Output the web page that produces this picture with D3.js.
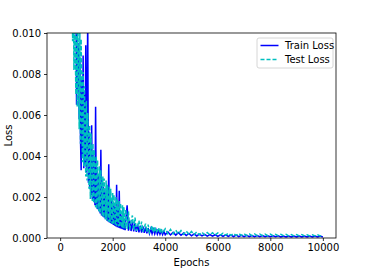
<!DOCTYPE html>
<html>
<head>
<meta charset="utf-8">
<script src="https://cdn.jsdelivr.net/npm/d3@7"></script>
<style>
  body { margin: 0; background: #fff; }
  svg { display: block; font-family: "DejaVu Sans", sans-serif; }
</style>
</head>
<body>
<div id="chart"></div>
<script>
// epochs: every 25 up to 2500, every 50 up to 4000, then every 100
const epochs = [
  400, 425, 450, 475, 500, 525, 550, 575, 600, 625,
  650, 675, 700, 725, 750, 775, 800, 825, 850, 875,
  900, 925, 950, 975, 1000, 1025, 1050, 1075, 1100, 1125,
  1150, 1175, 1200, 1225, 1250, 1275, 1300, 1325, 1350, 1375,
  1400, 1425, 1450, 1475, 1500, 1525, 1550, 1575, 1600, 1625,
  1650, 1675, 1700, 1725, 1750, 1775, 1800, 1825, 1850, 1875,
  1900, 1925, 1950, 1975, 2000, 2025, 2050, 2075, 2100, 2125,
  2150, 2175, 2200, 2225, 2250, 2275, 2300, 2325, 2350, 2375,
  2400, 2425, 2450, 2475, 2500,
  2550, 2600, 2650, 2700, 2750, 2800, 2850, 2900, 2950, 3000,
  3050, 3100, 3150, 3200, 3250, 3300, 3350, 3400, 3450, 3500,
  3550, 3600, 3650, 3700, 3750, 3800, 3850, 3900, 3950, 4000,
  4100, 4200, 4300, 4400, 4500, 4600, 4700, 4800, 4900, 5000,
  5100, 5200, 5300, 5400, 5500, 5600, 5700, 5800, 5900, 6000,
  6100, 6200, 6300, 6400, 6500, 6600, 6700, 6800, 6900, 7000,
  7100, 7200, 7300, 7400, 7500, 7600, 7700, 7800, 7900, 8000,
  8100, 8200, 8300, 8400, 8500, 8600, 8700, 8800, 8900, 9000,
  9100, 9200, 9300, 9400, 9500, 9600, 9700, 9800, 9900, 10000
]

const trainLoss = [
  0.021, 0.016, 0.019, 0.013, 0.016, 0.0115, 0.014, 0.0105, 0.0125, 0.0065,
  0.0102, 0.0072, 0.0095, 0.0058, 0.0088, 0.0048, 0.0033, 0.0078, 0.0040, 0.0089,
  0.0034, 0.0070, 0.0036, 0.0094, 0.0032, 0.0060, 0.0108, 0.0027, 0.0052, 0.0024,
  0.0048, 0.0021, 0.0055, 0.0019, 0.0042, 0.0018, 0.0038, 0.0016, 0.0064, 0.0015,
  0.0034, 0.0014, 0.0031, 0.0013, 0.0030, 0.0012, 0.0043, 0.0011, 0.0027, 0.00105,
  0.0025, 0.0010, 0.0024, 0.00092, 0.0022, 0.00086, 0.0021, 0.0008, 0.0036, 0.00076,
  0.0019, 0.00072, 0.0018, 0.00068, 0.0017, 0.00064, 0.0016, 0.0006, 0.0015, 0.00056,
  0.0026, 0.00053, 0.0014, 0.0005, 0.0023, 0.00048, 0.0012, 0.00045, 0.0011, 0.00043,
  0.001, 0.0004, 0.00095, 0.00038, 0.0009,
  0.0016, 0.00036, 0.00085, 0.00034, 0.0008, 0.00032, 0.00072, 0.0003, 0.00065, 0.00028,
  0.0006, 0.00026, 0.00056, 0.00025, 0.00052, 0.00023, 0.00048, 0.00022, 0.00045, 0.00021,
  0.00042, 0.0002, 0.0004, 0.00019, 0.00037, 0.00018, 0.00035, 0.00017, 0.00033, 0.00016,
  0.0003, 0.00015, 0.00028, 0.00014, 0.00026, 0.00013, 0.00024, 0.00012, 0.00022, 0.00011,
  0.0002, 0.0001, 0.00019, 0.0001, 0.00018, 0.00009, 0.00017, 0.00009, 0.00016, 0.00008,
  0.00015, 0.00008, 0.00015, 0.00008, 0.00014, 0.00007, 0.00014, 0.00007, 0.00013, 0.00007,
  0.00013, 0.00007, 0.00012, 0.00006, 0.00012, 0.00006, 0.00012, 0.00006, 0.00011, 0.00006,
  0.00011, 0.00006, 0.00011, 0.00005, 0.0001, 0.00005, 0.0001, 0.00005, 0.0001, 0.00005,
  0.0001, 0.00005, 0.00009, 0.00005, 0.00009, 0.00005, 0.00009, 0.00005, 0.00009, 0.00005
]

const testLoss = [
  0.019, 0.0115, 0.0155, 0.0096, 0.0128, 0.0082, 0.0124, 0.0092, 0.0070, 0.0115,
  0.0064, 0.0106, 0.0080, 0.0053, 0.0101, 0.0046, 0.0097, 0.0065, 0.0037, 0.0081,
  0.0035, 0.0074, 0.0052, 0.0030, 0.0067, 0.0028, 0.0061, 0.0042, 0.0024, 0.0055,
  0.0019, 0.0051, 0.0034, 0.0018, 0.0046, 0.0017, 0.0043, 0.0028, 0.0015, 0.0040,
  0.0014, 0.0038, 0.0024, 0.0013, 0.0035, 0.0012, 0.0033, 0.0021, 0.0011, 0.0030,
  0.0010, 0.0029, 0.0018, 0.00092, 0.0028, 0.00086, 0.0026, 0.0016, 0.0008, 0.0025,
  0.00077, 0.0024, 0.0014, 0.0007, 0.0022, 0.00066, 0.0021, 0.0012, 0.00062, 0.0020,
  0.0006, 0.0019, 0.0011, 0.00056, 0.0018, 0.00054, 0.0017, 0.00095, 0.0005, 0.0016,
  0.00048, 0.0015, 0.0009, 0.00046, 0.0014,
  0.00044, 0.0013, 0.00042, 0.0008, 0.0011, 0.00037, 0.001, 0.00035, 0.0006, 0.00085,
  0.00033, 0.0008, 0.00031, 0.0005, 0.0007, 0.00029, 0.00065, 0.00027, 0.00042, 0.0006,
  0.00026, 0.00055, 0.00025, 0.00038, 0.0005, 0.00023, 0.00048, 0.00022, 0.00032, 0.00045,
  0.00021, 0.00042, 0.0002, 0.00038, 0.00019, 0.00036, 0.00018, 0.00034, 0.00017, 0.00032,
  0.00016, 0.0003, 0.00016, 0.00028, 0.00015, 0.00027, 0.00015, 0.00026, 0.00014, 0.00025,
  0.00014, 0.00024, 0.00014, 0.00023, 0.00013, 0.00022, 0.00013, 0.00022, 0.00013, 0.00021,
  0.00012, 0.0002, 0.00012, 0.0002, 0.00012, 0.00019, 0.00012, 0.00019, 0.00011, 0.00019,
  0.00011, 0.00018, 0.00011, 0.00018, 0.00011, 0.00018, 0.0001, 0.00017, 0.0001, 0.00017,
  0.0001, 0.00017, 0.0001, 0.00016, 0.0001, 0.00016, 0.0001, 0.00016, 0.0001, 0.00016
]

const xTicks = [0, 2000, 4000, 6000, 8000, 10000]
const yTicks = [0, 0.002, 0.004, 0.006, 0.008, 0.010]
const seriesNames = ['Train Loss', 'Test Loss']

const width = 374
const height = 273
const margin = { top: 33, right: 38, bottom: 35, left: 47 }

const svg = d3.select('#chart')
  .append('svg')
    .attr('width', width)
    .attr('height', height)

const x = d3.scaleLinear()
  .domain([-500, 10500])
  .range([margin.left, width - margin.right])

const y = d3.scaleLinear()
  .domain([0, 0.01])
  .range([height - margin.bottom, margin.top])

svg.append('clipPath')
  .attr('id', 'plot-clip')
  .append('rect')
    .attr('x', margin.left)
    .attr('y', margin.top)
    .attr('width', width - margin.left - margin.right)
    .attr('height', height - margin.top - margin.bottom)

const series = [
  { name: seriesNames[0], values: trainLoss, color: '#0000ff', dash: null },
  { name: seriesNames[1], values: testLoss, color: '#00bfbf', dash: '4,2' }
]

const line = d3.line()
  .x((d, i) => x(epochs[i]))
  .y(d => y(d))

svg.append('g')
  .attr('clip-path', 'url(#plot-clip)')
  .selectAll('path')
  .data(series)
  .join('path')
    .attr('d', d => line(d.values))
    .attr('fill', 'none')
    .attr('stroke', d => d.color)
    .attr('stroke-width', 1.5)
    .attr('stroke-dasharray', d => d.dash)

// axes
const xAxis = svg.append('g')
  .attr('transform', `translate(0,${height - margin.bottom})`)
  .call(d3.axisBottom(x).tickValues(xTicks).tickFormat(d3.format('d')).tickSize(3).tickPadding(3))

const yAxis = svg.append('g')
  .attr('transform', `translate(${margin.left},0)`)
  .call(d3.axisLeft(y).tickValues(yTicks).tickFormat(d3.format('.3f')).tickSize(3).tickPadding(3))

for (const g of [xAxis, yAxis]) {
  g.select('.domain').remove()
  g.selectAll('.tick line').attr('stroke', '#000').attr('stroke-width', 0.8)
  g.selectAll('.tick text')
    .attr('font-family', '"DejaVu Sans", sans-serif')
    .attr('font-size', 10)
    .attr('fill', '#000')
}

// frame
svg.append('rect')
  .attr('x', margin.left)
  .attr('y', margin.top)
  .attr('width', width - margin.left - margin.right)
  .attr('height', height - margin.top - margin.bottom)
  .attr('fill', 'none')
  .attr('stroke', '#000')
  .attr('stroke-width', 0.8)

svg.append('text')
  .attr('x', (margin.left + width - margin.right) / 2)
  .attr('y', 266)
  .attr('text-anchor', 'middle')
  .attr('font-size', 10)
  .text('Epochs')

svg.append('text')
  .attr('transform', `translate(12,${(margin.top + height - margin.bottom) / 2}) rotate(-90)`)
  .attr('text-anchor', 'middle')
  .attr('font-size', 10)
  .text('Loss')

// legend
const legend = svg.append('g')
  .attr('transform', 'translate(257,38)')

legend.append('rect')
  .attr('width', 76)
  .attr('height', 30)
  .attr('rx', 2)
  .attr('fill', '#fff')
  .attr('fill-opacity', 0.8)
  .attr('stroke', '#ccc')
  .attr('stroke-width', 0.8)

const item = legend.selectAll('g.item')
  .data(series)
  .join('g')
    .attr('class', 'item')
    .attr('transform', (d, i) => `translate(0,${7.5 + i * 14})`)

item.append('line')
  .attr('x1', 3.5)
  .attr('x2', 21.5)
  .attr('stroke', d => d.color)
  .attr('stroke-width', 1.5)
  .attr('stroke-dasharray', d => d.dash)

item.append('text')
  .attr('x', 28)
  .attr('dy', '0.35em')
  .attr('font-size', 10)
  .text(d => d.name)
</script>
</body>
</html>
